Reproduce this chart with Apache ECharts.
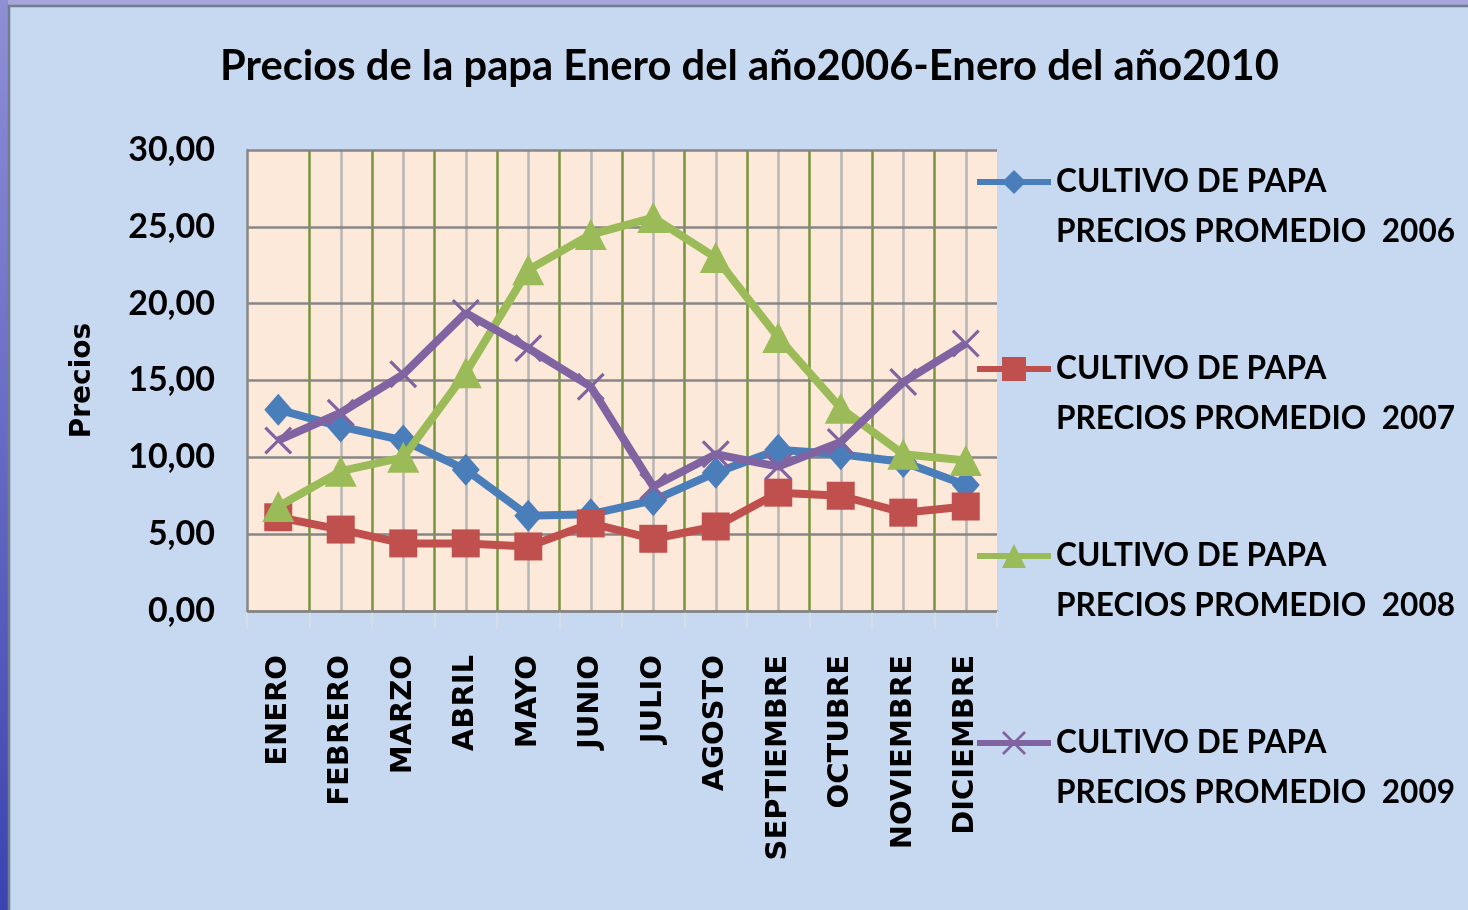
<!DOCTYPE html>
<html>
<head>
<meta charset="utf-8">
<script src="https://cdn.jsdelivr.net/npm/echarts@6/dist/echarts.min.js"></script>
<style>
html,body{margin:0;padding:0;background:#c6d9f1;}
#chart{width:1468px;height:910px;}
</style>
</head>
<body>
<div id="chart"></div>
<script>
const titleText = 'Precios de la papa Enero del año2006-Enero del año2010';
const yAxisName = 'Precios';
const months = ['ENERO','FEBRERO','MARZO','ABRIL','MAYO','JUNIO','JULIO','AGOSTO','SEPTIEMBRE','OCTUBRE','NOVIEMBRE','DICIEMBRE'];
const seriesNames = [
  'CULTIVO DE PAPA\nPRECIOS PROMEDIO  2006',
  'CULTIVO DE PAPA\nPRECIOS PROMEDIO  2007',
  'CULTIVO DE PAPA\nPRECIOS PROMEDIO  2008',
  'CULTIVO DE PAPA\nPRECIOS PROMEDIO  2009'
];
const prices2006 = [13.1, 12.0, 11.1, 9.2, 6.2, 6.3, 7.2, 9.0, 10.5, 10.2, 9.7, 8.2];
const prices2007 = [6.1, 5.3, 4.4, 4.4, 4.2, 5.7, 4.7, 5.5, 7.7, 7.5, 6.4, 6.8];
const prices2008 = [6.8, 9.1, 10.0, 15.5, 22.2, 24.5, 25.6, 23.0, 17.8, 13.2, 10.2, 9.8];
const prices2009 = [11.1, 12.9, 15.4, 19.4, 17.1, 14.6, 8.1, 10.2, 9.4, 11.0, 14.9, 17.4];
const yMin = 0, yMax = 30, yStep = 5;

const colors = ['#4a7ebb', '#c0504d', '#9bbb59', '#8064a2'];
const xPath = 'path://M0,0.8L0.8,0L5,4.2L9.2,0L10,0.8L5.8,5L10,9.2L9.2,10L5,5.8L0.8,10L0,9.2L4.2,5Z';
const symbols = ['diamond', 'rect', 'triangle', xPath];
const symbolSizes = [[28, 32], 28, [32, 31], 28];
const dataSets = [prices2006, prices2007, prices2008, prices2009];

// half-category sub axis: one gridline at the centre of every month
const halfSlots = months.flatMap(m => [m + '_a', m + '_b']);

const chart = echarts.init(document.getElementById('chart'), null, {renderer: 'canvas'});

const lineSeries = dataSets.map((d, i) => ({
  name: seriesNames[i],
  type: 'line',
  xAxisIndex: 0,
  data: d,
  z: 3 + i,
  symbol: symbols[i],
  symbolSize: symbolSizes[i],
  symbolKeepAspect: false,
  lineStyle: {color: colors[i], width: 8},
  itemStyle: {color: colors[i], borderWidth: 0},
  emphasis: {disabled: true}
}));

chart.setOption({
  backgroundColor: '#c6d9f1',
  animation: false,
  title: {
    text: titleText,
    left: 215,
    top: 41,
    textStyle: {fontFamily: 'Lato', fontWeight: 'bold', fontSize: 41.7, color: '#000'}
  },
  graphic: [
    {type: 'rect', shape: {x: 0, y: 0, width: 1468, height: 5}, style: {fill: '#a7a6dc'}, silent: true},
    {type: 'rect', shape: {x: 0, y: 0, width: 8, height: 910},
      style: {fill: new echarts.graphic.LinearGradient(0, 0, 0, 1, [{offset: 0, color: '#8f8fd6'}, {offset: 1, color: '#3c43b0'}])}, silent: true},
    {type: 'polyline', shape: {points: [[9, 910], [9, 6], [1468, 6]]}, style: {stroke: '#6f7d8c', lineWidth: 2.5, fill: null}, silent: true}
  ],
  legend: {
    orient: 'vertical',
    left: 969,
    top: 102,
    itemWidth: 74,
    itemHeight: 30,
    itemGap: 37,
    data: seriesNames,
    formatter: n => '\n' + n,
    lineStyle: {width: 6},
    textStyle: {fontFamily: 'Lato', fontWeight: 'bold', fontSize: 31.6, lineHeight: 50, color: '#000'}
  },
  grid: {
    left: 247, top: 150, width: 750, height: 461,
    show: true, backgroundColor: '#fde9d9', borderWidth: 0
  },
  xAxis: [{
    type: 'category',
    data: months,
    boundaryGap: true,
    z: 2,
    axisLine: {show: true, lineStyle: {color: '#868686', width: 2.5}},
    axisTick: {show: true, length: 18, lineStyle: {color: '#d6dde9', width: 2}},
    splitLine: {show: true, showMinLine: false, showMaxLine: false, lineStyle: {color: '#77933c', width: 2.5}},
    axisLabel: {
      rotate: 90, margin: 44, color: '#000',
      fontFamily: 'DejaVu Sans', fontWeight: 'bold', fontSize: 29
    }
  }, {
    type: 'category',
    data: halfSlots,
    position: 'top',
    boundaryGap: true,
    z: 1,
    axisLine: {show: false},
    axisTick: {show: false},
    axisLabel: {show: false},
    splitLine: {show: true, showMinLine: false, showMaxLine: false, interval: (i) => i % 2 === 1, lineStyle: {color: '#b5b5b5', width: 2.5}}
  }],
  yAxis: {
    type: 'value',
    min: yMin, max: yMax, interval: yStep,
    name: yAxisName,
    nameLocation: 'middle',
    nameGap: 150,
    nameRotate: 90,
    z: 3,
    nameTextStyle: {fontFamily: 'DejaVu Sans', fontWeight: 'bold', fontSize: 28, color: '#000'},
    axisLine: {show: true, lineStyle: {color: '#868686', width: 2.5}},
    axisTick: {show: false},
    splitLine: {show: true, lineStyle: {color: '#868686', width: 2.5}},
    axisLabel: {
      margin: 32, color: '#000',
      fontFamily: 'Lato', fontWeight: 'bold', fontSize: 34,
      formatter: v => v.toFixed(2).replace('.', ',')
    }
  },
  series: lineSeries
});
</script>
</body>
</html>
